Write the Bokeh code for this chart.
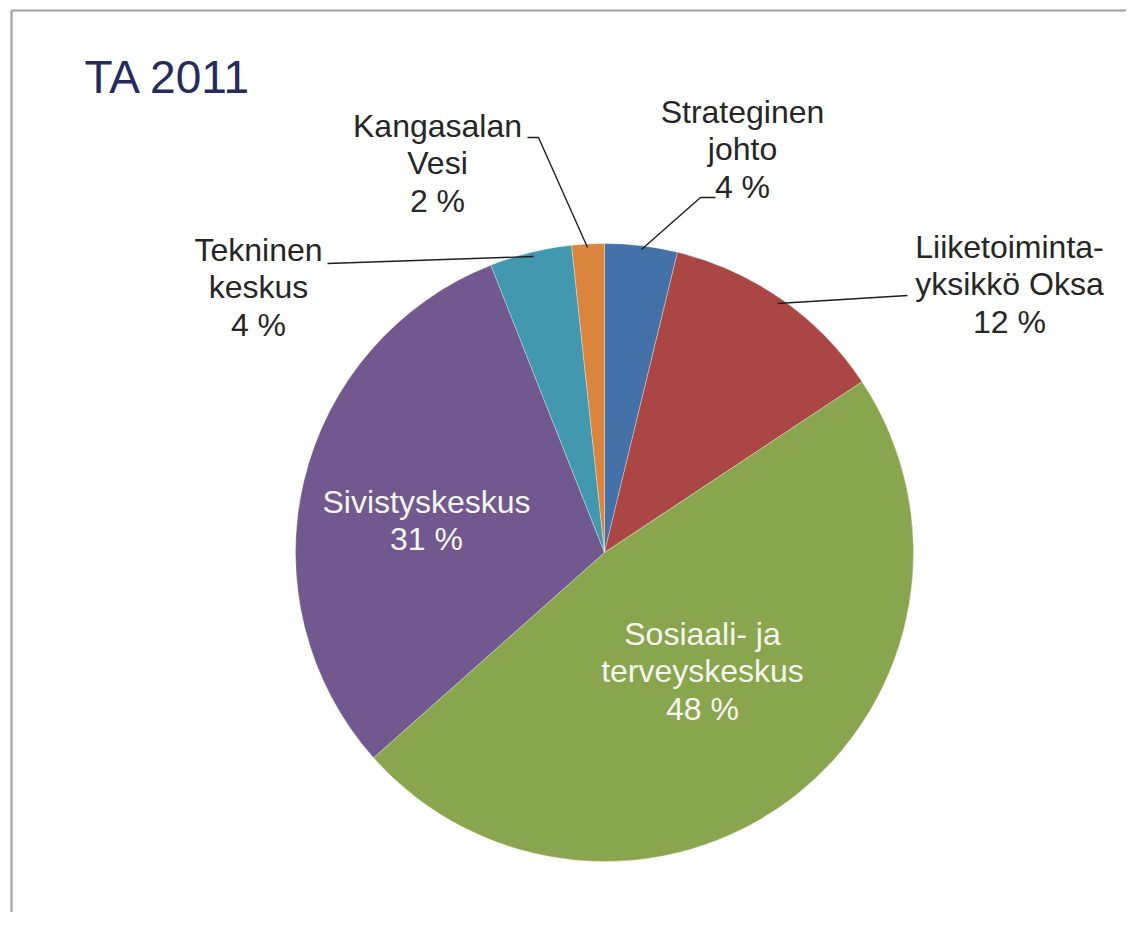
import math
from bokeh.plotting import figure
from bokeh.models import Range1d, ColumnDataSource
from bokeh.core.properties import value
from bokeh.embed import file_html
from bokeh.resources import INLINE

# ---- data ----
title_text = "TA 2011"
categories = ["Strateginen\njohto", "Liiketoiminta-\nyksikkö Oksa", "Sosiaali- ja\nterveyskeskus",
              "Sivistyskeskus", "Tekninen\nkeskus", "Kangasalan\nVesi"]
shares = [3.8, 11.9, 47.8, 30.6, 4.3, 1.7]
pct_labels = [4, 12, 48, 31, 4, 2]
colors = ["#4471A8", "#AA4643", "#89A54E", "#71588F", "#4198AF", "#DB843D"]

# ---- layout (page pixel coordinates) ----
W, H = 1126, 912
XOFF = 0
YOFF = 8


def X(px):
    return px


def Y(py):
    return YOFF + H - py


cx, cy, R = 604, 552, 309
label_pos = [(742, 149), (1009, 284), (702, 671), (426, 520), (258, 287), (437, 163)]
label_inside = [False, False, True, True, False, False]
leaders = [
    [(715, 197), (700, 197), (641, 249)],
    [(907, 295), (777, 303)],
    None,
    None,
    [(327, 263), (533, 256)],
    [(527, 137), (538, 137), (587, 247)],
]

p = figure(width=W, height=H, output_backend="svg", toolbar_location=None,
           x_range=Range1d(XOFF, XOFF + W), y_range=Range1d(YOFF, YOFF + H),
           min_border=0, outline_line_color=None)
p.axis.visible = False
p.grid.visible = False
p.background_fill_color = "white"
p.border_fill_color = "white"

# frame border (top & left visible)
p.line([X(11), X(11)], [Y(10), Y(940)], line_color="#a0a0a0", line_width=2.2)
p.line([X(11), X(1140)], [Y(10), Y(10)], line_color="#a0a0a0", line_width=2.2)

# pie
total = sum(shares)
starts, ends = [], []
cum = 0.0
for s in shares:
    starts.append(math.pi / 2 - 2 * math.pi * cum / total)
    cum += s
    ends.append(math.pi / 2 - 2 * math.pi * cum / total)

src = ColumnDataSource(dict(start=starts, end=ends, color=colors))
p.wedge(x=X(cx), y=Y(cy), radius=R, start_angle="start", end_angle="end",
        direction="clock", fill_color="color", line_color="white", line_width=0.6,
        line_alpha=0.5, source=src)

# leader lines
for ld in leaders:
    if ld:
        p.line([X(a) for a, b in ld], [Y(b) for a, b in ld], line_color="#1e1e1e", line_width=1.4)

# labels
for name, pct, (lx, ly), inside in zip(categories, pct_labels, label_pos, label_inside):
    p.text(x=[X(lx)], y=[Y(ly)], text=[f"{name}\n{pct} %"],
           text_font=value("Liberation Sans"), text_font_size="32px",
           text_color="#f4f6ee" if inside else "#262626",
           text_align="center", text_baseline="middle", text_line_height=1.03)

# title
p.text(x=[X(84)], y=[Y(76)], text=[title_text], text_font=value("Liberation Sans"),
       text_font_size="46px", text_color="#262a5c", text_align="left", text_baseline="middle")

open("out.html", "w").write(file_html(p, INLINE))
